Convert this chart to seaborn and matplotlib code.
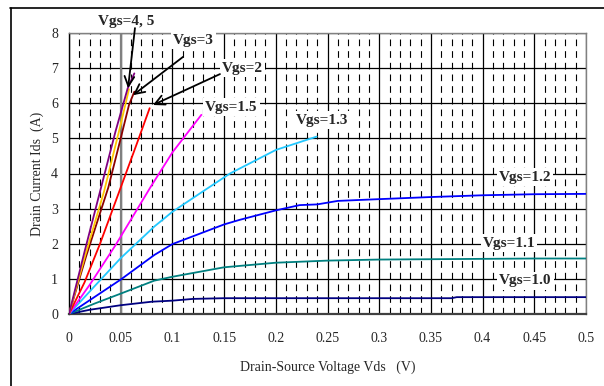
import numpy as np
import pandas as pd
import matplotlib
matplotlib.use("Agg")
import matplotlib.pyplot as plt
from matplotlib.lines import Line2D
import seaborn as sns

# Measured drain current Ids (A) vs drain-source voltage Vds (V) per gate voltage
vds_10 = [0.0, 0.02, 0.05, 0.08, 0.10, 0.12, 0.15, 0.20, 0.25, 0.30, 0.37, 0.375, 0.42, 0.46, 0.50]
ids_10 = [0.0, 0.12, 0.25, 0.35, 0.38, 0.43, 0.45, 0.45, 0.45, 0.45, 0.45, 0.48, 0.48, 0.48, 0.48]

vds_11 = [0.0, 0.025, 0.05, 0.0825, 0.10, 0.15, 0.20, 0.25, 0.30, 0.35, 0.40, 0.45, 0.50]
ids_11 = [0.0, 0.30, 0.58, 0.95, 1.06, 1.33, 1.46, 1.52, 1.55, 1.56, 1.57, 1.58, 1.58]

vds_12 = [0.0, 0.05, 0.0825, 0.10, 0.15, 0.165, 0.20, 0.223, 0.24, 0.26, 0.30, 0.35, 0.40, 0.45, 0.50]
ids_12 = [0.0, 0.98, 1.68, 1.99, 2.55, 2.68, 2.95, 3.10, 3.12, 3.22, 3.27, 3.33, 3.38, 3.41, 3.42]

vds_13 = [0.0, 0.025, 0.05, 0.0825, 0.10, 0.13, 0.1557, 0.20, 0.2395]
ids_13 = [0.0, 0.80, 1.59, 2.49, 2.91, 3.50, 4.00, 4.67, 5.05]

vds_15 = [0.0, 0.02, 0.045, 0.079, 0.10, 0.128]
ids_15 = [0.0, 0.83, 1.96, 3.62, 4.60, 5.67]

vds_20 = [0.0, 0.015, 0.03, 0.05, 0.065, 0.078]
ids_20 = [0.0, 0.90, 2.00, 3.60, 4.80, 5.86]

vds_30 = [0.0, 0.0164, 0.038, 0.050, 0.058, 0.0632]
ids_30 = [0.0, 1.63, 3.60, 5.00, 5.95, 6.33]

vds_40 = [0.0, 0.016, 0.034, 0.050, 0.058]
ids_40 = [0.0, 1.70, 3.50, 5.40, 6.40]

vds_50 = [0.0, 0.015, 0.031, 0.045, 0.0567, 0.0632]
ids_50 = [0.0, 1.77, 3.60, 5.20, 6.42, 6.85]

series_names = ["1.0", "1.1", "1.2", "1.3", "1.5", "2", "3", "4", "5"]
series_vds = [vds_10, vds_11, vds_12, vds_13, vds_15, vds_20, vds_30, vds_40, vds_50]
series_ids = [ids_10, ids_11, ids_12, ids_13, ids_15, ids_20, ids_30, ids_40, ids_50]
series_colors = ["#000080", "#008080", "#0000FF", "#22C8FF", "#FF00FF",
                 "#FF0000", "#8B0000", "#FFC800", "#800080"]

x_ticks = [0, 0.05, 0.1, 0.15, 0.2, 0.25, 0.3, 0.35, 0.4, 0.45, 0.5]
x_tick_labels = ["0", "0.05", "0.1", "0.15", "0.2", "0.25", "0.3", "0.35", "0.4", "0.45", "0.5"]
y_ticks = [0, 1, 2, 3, 4, 5, 6, 7, 8]

frames = []
for name, xs, ys in zip(series_names, series_vds, series_ids):
    frames.append(pd.DataFrame({"Vds": xs, "Ids": ys, "Vgs": name}))
df = pd.concat(frames, ignore_index=True)

sns.set_style("white")
plt.rcParams["font.family"] = ["Liberation Serif", "DejaVu Serif"]

fig = plt.figure(figsize=(6.04, 3.86), dpi=100)
ax = fig.add_axes([69 / 604, 1 - 314 / 386, 517 / 604, 281 / 386])

sns.lineplot(data=df, x="Vds", y="Ids", hue="Vgs", hue_order=series_names,
             palette=series_colors, sort=False, estimator=None, units="Vgs",
             linewidth=1.3, legend=False, ax=ax, zorder=3)

ax.set_xlim(0, 0.5)
ax.set_ylim(0, 8)
ax.set_xticks(x_ticks)
ax.set_xticklabels(x_tick_labels)
ax.set_yticks(y_ticks)
minor_x = [i / 100 for i in range(1, 50) if i % 5 != 0]
ax.set_xticks(minor_x, minor=True)
ax.set_axisbelow(True)
ax.grid(which="major", axis="both", color="black", linewidth=0.9)
ax.grid(which="minor", axis="x", color="black", linewidth=0.8, linestyle=(0, (6, 4.5)))
ax.axvline(0.05, color="#808080", linewidth=1.6, zorder=1.5)

ax.tick_params(axis="x", which="major", length=0, pad=13, labelsize=10)
ax.tick_params(axis="y", which="major", length=0, pad=8, labelsize=10)
ax.tick_params(which="minor", length=0)

for side in ["top", "right"]:
    ax.spines[side].set_color("#808080")
    ax.spines[side].set_linewidth(1.0)
ax.spines["left"].set_color("black")
ax.spines["left"].set_linewidth(1.0)
ax.spines["bottom"].set_color("#404040")
ax.spines["bottom"].set_linewidth(1.6)

ax.set_xlabel("Drain-Source Voltage Vds   (V)", fontsize=10, labelpad=11)
ax.set_ylabel("Drain Current Ids  (A)", fontsize=10, labelpad=5)

box = dict(facecolor="white", edgecolor="none", pad=1.5)
label_specs = [
    ("Vgs=4, 5", 0.0556, 8.34),
    ("Vgs=3", 0.120, 7.80),
    ("Vgs=2", 0.168, 7.00),
    ("Vgs=1.5", 0.157, 5.89),
    ("Vgs=1.3", 0.2447, 5.52),
    ("Vgs=1.2", 0.441, 3.90),
    ("Vgs=1.1", 0.4255, 2.02),
    ("Vgs=1.0", 0.4415, 0.94),
]
for text, tx, ty in label_specs:
    ax.text(tx, ty, text, fontsize=11, fontweight="bold", ha="center", va="center",
            bbox=box, zorder=4, clip_on=False)

arrow_specs = [
    ((0.0571, 6.43), (0.0638, 8.14)),
    ((0.0619, 6.23), (0.1103, 7.32)),
    ((0.0812, 5.95), (0.146, 6.83)),
]
for tip, start in arrow_specs:
    ax.annotate("", xy=tip, xytext=start, annotation_clip=False, zorder=5,
                arrowprops=dict(arrowstyle="->,head_length=0.7,head_width=0.35",
                                color="black", lw=1.3, shrinkA=0, shrinkB=0))

# outer frame along the top and left edges
fig.add_artist(Line2D([10 / 604, 1.0], [1 - 8 / 386, 1 - 8 / 386], color="black", lw=1.2,
                      transform=fig.transFigure))
fig.add_artist(Line2D([11 / 604, 11 / 604], [0.0, 1 - 8 / 386], color="black", lw=1.2,
                      transform=fig.transFigure))

fig.savefig("out.png", dpi=100)
